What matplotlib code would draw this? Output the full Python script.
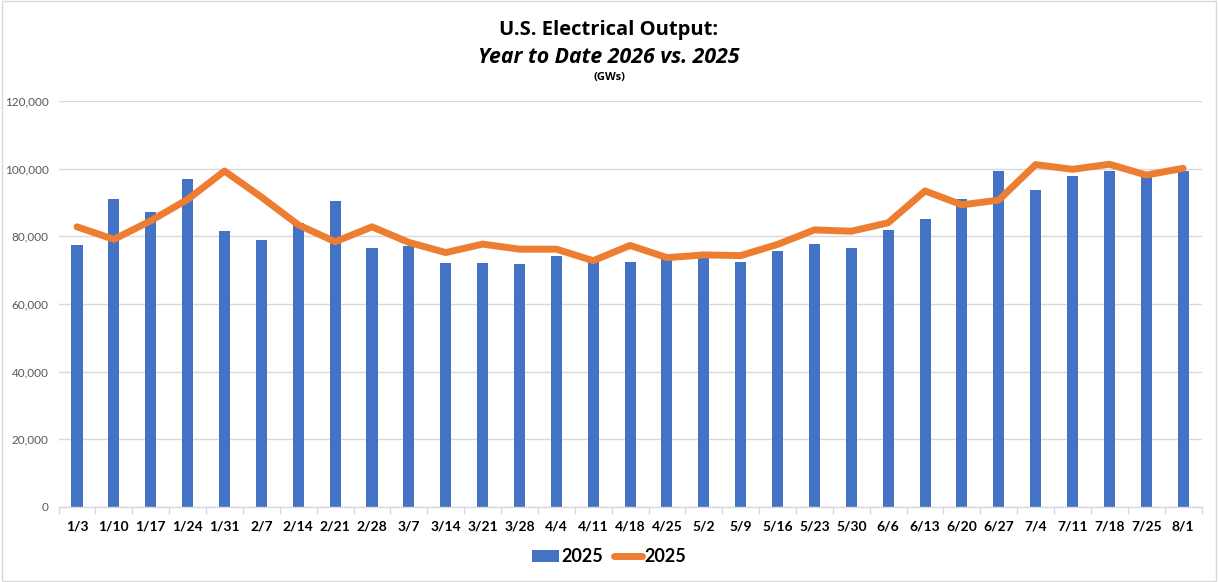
import numpy as np
import matplotlib
matplotlib.use("Agg")
import matplotlib.pyplot as plt
from matplotlib.ticker import FuncFormatter
from matplotlib.patches import Rectangle

weeks = ["1/3", "1/10", "1/17", "1/24", "1/31", "2/7", "2/14", "2/21", "2/28", "3/7",
         "3/14", "3/21", "3/28", "4/4", "4/11", "4/18", "4/25", "5/2", "5/9", "5/16",
         "5/23", "5/30", "6/6", "6/13", "6/20", "6/27", "7/4", "7/11", "7/18", "7/25", "8/1"]

# bars (blue)
bar_vals = [77500, 91000, 87200, 97000, 81600, 78900, 83900, 90400, 76500, 77200,
            72100, 72100, 71800, 74200, 72500, 72400, 73300, 73500, 72400, 75700,
            77700, 76500, 81900, 85100, 91000, 99300, 93700, 97800, 99300, 98300, 99300]

# line (orange)
line_vals = [82800, 79100, 84600, 90900, 99300, 91600, 83400, 78400, 82800, 78200,
             75200, 77700, 76200, 76200, 72800, 77300, 73700, 74500, 74300, 77600,
             81900, 81500, 84000, 93400, 89300, 90700, 101200, 99800, 101300, 98100, 100100]

bar_label = "2025"
line_label = "2025"

blue = "#4472C4"
orange = "#ED7D31"

plt.rcParams['font.family'] = ['Lato', 'DejaVu Sans']

fig = plt.figure(figsize=(12.18, 5.82), dpi=100)
ax = fig.add_axes([0.0481, 0.1289, 0.9384, 0.6976])

x = np.arange(len(weeks))
bars = ax.bar(x, bar_vals, width=0.3, color=blue, label=bar_label, zorder=2)
line, = ax.plot(x, line_vals, color=orange, lw=5, label=line_label, zorder=3,
                solid_capstyle="round", solid_joinstyle="round")

ax.set_xlim(-0.5, len(weeks) - 0.5)
ax.set_ylim(0, 120000)
ax.set_yticks(np.arange(0, 120001, 20000))
ax.yaxis.set_major_formatter(FuncFormatter(lambda v, p: f"{int(v):,}"))
ax.grid(axis="y", color="#d9d9d9", lw=1, zorder=0)
ax.set_axisbelow(True)

for s in ["top", "right", "left"]:
    ax.spines[s].set_visible(False)
ax.spines["bottom"].set_color("#d9d9d9")
ax.spines["bottom"].set_linewidth(1)

ax.set_xticks(x)
ax.set_xticklabels(weeks, fontsize=10, fontweight="bold", color="black")
ax.set_xticks(np.arange(-0.5, len(weeks), 1), minor=True)
ax.tick_params(axis="x", which="major", length=0, pad=10)
ax.tick_params(axis="x", which="minor", length=5, color="#d9d9d9", width=1)
ax.tick_params(axis="y", length=0, labelsize=8.5, labelcolor="#595959", pad=7)

fig.text(0.5, 0.949, "U.S. Electrical Output:", ha="center", va="center",
         fontsize=14.5, fontweight="bold", family=["Open Sans", "DejaVu Sans"])
fig.text(0.5, 0.901, "Year to Date 2026 vs. 2025", ha="center", va="center",
         fontsize=15.3, fontweight="bold", style="italic", family=["Open Sans", "DejaVu Sans"])
fig.text(0.5, 0.867, "(GWs)", ha="center", va="center",
         fontsize=8, fontweight="bold", family=["Open Sans", "DejaVu Sans"])

fig.legend(handles=[bars, line], labels=[bar_label, line_label],
           loc="center", bbox_to_anchor=(0.5, 0.043), ncol=2, frameon=False,
           prop={"weight": "bold", "size": 13}, handlelength=1.5,
           handletextpad=0.15, columnspacing=0.6)

fig.patches.append(Rectangle((0.0015, 0.002), 0.997, 0.996, transform=fig.transFigure,
                             fill=False, edgecolor="#d9d9d9", lw=1))

fig.savefig("out.png", dpi=100)
